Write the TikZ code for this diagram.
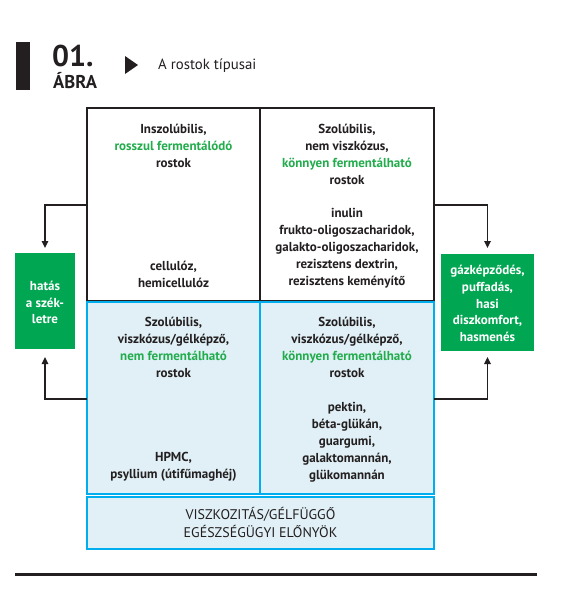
\documentclass[tikz,border=0pt]{standalone}
\usepackage{fontspec}
\setmainfont{PT Sans}
\usetikzlibrary{arrows.meta}
\definecolor{ink}{RGB}{35,31,32}
\definecolor{gbox}{RGB}{0,166,81}
\definecolor{gtext}{RGB}{34,172,76}
\definecolor{bline}{RGB}{0,174,239}
\definecolor{bfill}{RGB}{224,240,246}
\begin{document}
\begin{tikzpicture}[x=1pt,y=-1pt,
  txt/.style={font=\fontsize{13}{16.9}\selectfont\bfseries, text=ink, align=center, inner sep=0pt},
  wtxt/.style={font=\fontsize{13}{16.9}\selectfont\bfseries, text=white, align=center, inner sep=0pt},
  blackcell/.style={draw=ink, line width=2pt, minimum width=173pt, minimum height=193pt, anchor=north west, inner sep=0pt, outer sep=0pt},
  bluecell/.style={draw=bline, fill=bfill, line width=2pt, minimum width=173pt, minimum height=192pt, anchor=north west, inner sep=0pt, outer sep=0pt},
  greenbox/.style={fill=gbox, inner sep=0pt, outer sep=0pt},
  conn/.style={draw=ink, line width=1.6pt, -{Triangle[length=7pt,width=6.5pt]}},
]
\useasboundingbox (0,0) rectangle (567,600);
\fill[white] (0,0) rectangle (567,600);

% header
\fill[ink] (16,42) rectangle (30,90);
\node[anchor=base west, font=\fontsize{30}{30}\selectfont\bfseries, text=ink, inner sep=0pt] (num) at (52,66) {01.};
\node[anchor=base west, font=\fontsize{18.5}{18.5}\selectfont\bfseries, text=ink, inner sep=0pt] (abra) at (53,88) {ÁBRA};
\fill[ink] (125,56) -- (138,65) -- (125,74) -- cycle;
\node[anchor=base west, font=\fontsize{14.8}{14.8}\selectfont, text=ink, inner sep=0pt] (title) at (158,69.5) {A rostok típusai};

% grid cells
\node[blackcell] (tl) at (87,108) {};
\node[blackcell, minimum width=174pt] (tr) at (260,108) {};
\node[bluecell] (bl) at (87,302) {};
\node[bluecell, minimum width=174pt] (br) at (260,302) {};
\node[bluecell, minimum width=347pt, minimum height=52pt] (bot) at (87,496.5) {};

% cell texts
\node[txt] (tlh) at (173.5,146) {Inszolúbilis,\\\textcolor{gtext}{rosszul fermentálódó}\\rostok};
\node[txt] (tlb) at (173.5,274.5) {cellulóz,\\hemicellulóz};
\node[txt] (trh) at (347,154.5) {Szolúbilis,\\nem viszkózus,\\\textcolor{gtext}{könnyen fermentálható}\\rostok};
\node[txt] (trb) at (347,248.5) {inulin\\frukto-oligoszacharidok,\\galakto-oligoszacharidok,\\rezisztens dextrin,\\rezisztens keményítő};
\node[txt] (blh) at (173.5,347.5) {Szolúbilis,\\viszkózus/gélképző,\\\textcolor{gtext}{nem fermentálható}\\rostok};
\node[txt] (blb) at (173.5,467) {HPMC,\\psyllium (útifűmaghéj)};
\node[txt] (brh) at (347,347.5) {Szolúbilis,\\viszkózus/gélképző,\\\textcolor{gtext}{könnyen fermentálható}\\rostok};
\node[txt] (brb) at (347,442) {pektin,\\béta-glükán,\\guargumi,\\galaktomannán,\\glükomannán};
\node[txt, font=\fontsize{14}{18}\selectfont] (bott) at (260.5,522) {VISZKOZITÁS/GÉLFÜGGŐ\\EGÉSZSÉGÜGYI ELŐNYÖK};

% green boxes
\node[greenbox, minimum width=60pt, minimum height=96pt] (lg) at (45,301) {};
\node[wtxt] (lgt) at (45,302.5) {hatás\\a szék-\\letre};
\node[greenbox, minimum width=93pt, minimum height=97pt] (rg) at (487.5,302.5) {};
\node[wtxt] (rgt) at (487.5,303.5) {gázképződés,\\puffadás,\\hasi\\diszkomfort,\\hasmenés};

% connectors
\coordinate (la) at (87,205);
\coordinate (lb) at (87,399);
\coordinate (ra) at (434,205);
\coordinate (rb) at (434,399);
\draw[conn, shorten >=5pt] (la) -| (lg.north);
\draw[conn, shorten >=8pt] (lb) -| (lg.south);
\draw[conn, shorten >=6pt] (ra) -| (rg.north);
\draw[conn, shorten >=6pt] (rb) -| (rg.south);

% bottom rule
\draw[ink, line width=3pt] (15,574) -- (537,574);
\end{tikzpicture}
\end{document}
